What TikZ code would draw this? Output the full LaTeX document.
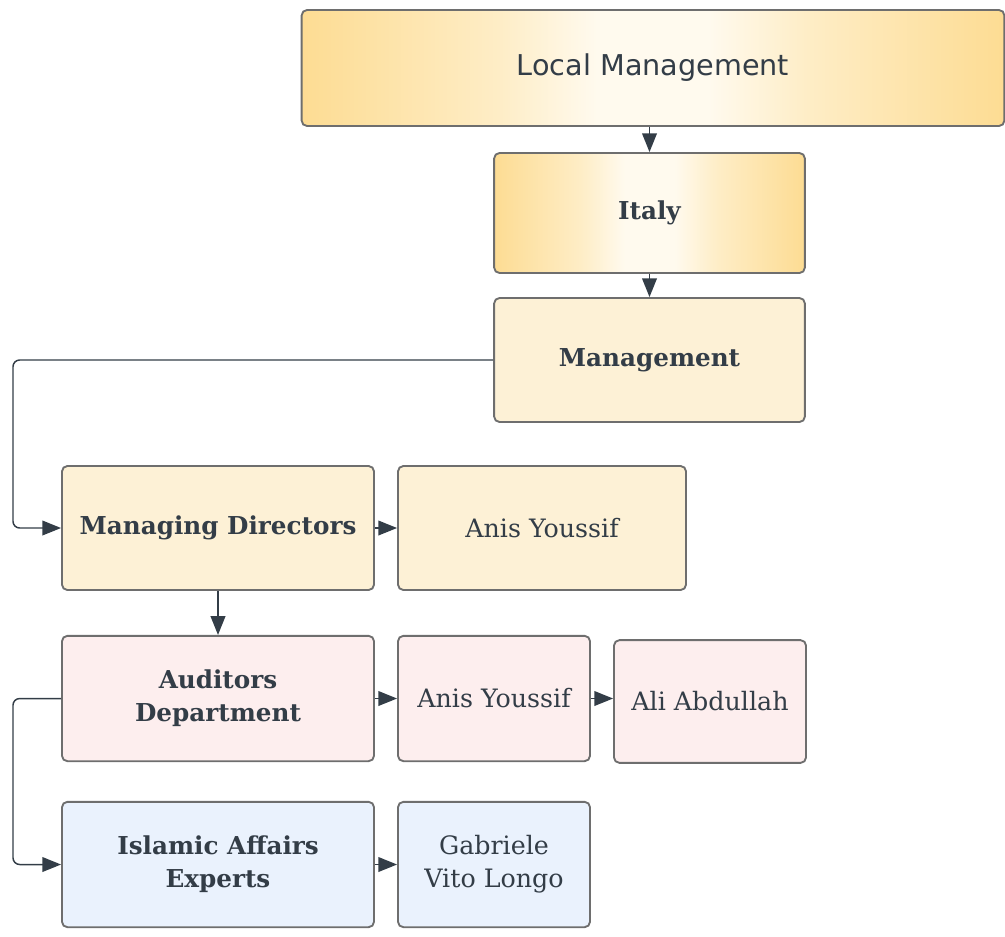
\documentclass[tikz,border=0pt]{standalone}
\usepackage{fontspec}
\setmainfont{DejaVu Serif}
\newfontfamily\headfont{DejaVu Sans}
\usetikzlibrary{arrows.meta}
\definecolor{ink}{HTML}{333D47}
\definecolor{edge}{HTML}{6E6E6E}
\definecolor{gold}{HTML}{FDDC93}
\definecolor{goldmid}{HTML}{FEEDC6}
\definecolor{goldlight}{HTML}{FFFAEE}
\definecolor{cream}{HTML}{FDF1D6}
\definecolor{blush}{HTML}{FDEEEE}
\definecolor{ice}{HTML}{EAF2FD}
% soft gold-to-cream fade across the top boxes (path spans 25bp..75bp)
\pgfdeclarehorizontalshading{goldfade}{100bp}{
  color(0bp)=(gold); color(25bp)=(gold); color(39bp)=(goldmid);
  color(46bp)=(goldlight); color(54bp)=(goldlight); color(61bp)=(goldmid);
  color(75bp)=(gold); color(100bp)=(gold)}
\tikzset{
  box/.style={draw=edge, line width=1.4pt, rounded corners=4pt, text=ink,
    align=center, inner sep=0pt},
  gradbox/.style={box, shading=goldfade, shading angle=0},
  creambox/.style={box, fill=cream},
  pinkbox/.style={box, fill=blush},
  bluebox/.style={box, fill=ice},
  link/.style={draw=ink, line width=1.1pt, rounded corners=5pt,
    -{Triangle[length=14pt,width=11pt]}},
  bt/.style={font=\fontsize{18.5}{25}\selectfont\bfseries},
  nt/.style={font=\fontsize{19}{25}\selectfont},
}
\begin{document}
\begin{tikzpicture}[x=0.75pt,y=-0.75pt]
\useasboundingbox (0,0) rectangle (1005,936);
% boxes, positioned in pixel units
\node[gradbox, minimum width=527pt, minimum height=87pt, font=\headfont\fontsize{21.5}{26}\selectfont]
  (local) at (653,68) {Local Management};
\node[gradbox, bt, minimum width=233pt, minimum height=90pt] (italy) at (649.5,213) {Italy};
\node[creambox, bt, minimum width=233pt, minimum height=93pt] (mgmt) at (649.5,360) {Management};
\node[creambox, bt, minimum width=234pt, minimum height=93pt] (md) at (218,528) {Managing Directors};
\node[creambox, nt, minimum width=216pt, minimum height=93pt] (anis1) at (542,528) {Anis Youssif};
\node[pinkbox, bt, minimum width=234pt, minimum height=94pt] (aud) at (218,698.5) {Auditors\\Department};
\node[pinkbox, nt, minimum width=144pt, minimum height=94pt] (anis2) at (494,698.5) {Anis Youssif};
\node[pinkbox, nt, minimum width=144pt, minimum height=92pt] (ali) at (710,701.5) {Ali Abdullah};
\node[bluebox, bt, minimum width=234pt, minimum height=94pt] (isl) at (218,864.5) {Islamic Affairs\\Experts};
\node[bluebox, nt, minimum width=144pt, minimum height=94pt] (gab) at (494,864.5) {Gabriele\\Vito Longo};
% connectors
\draw[link] (local.south -| italy.north) -- (italy.north);
\draw[link] (italy.south) -- (mgmt.north);
\coordinate (mtop) at (13,360);
\coordinate (mbot) at (13,528);
\draw[link] (mgmt.west) -- (mtop) -- (mbot) -- (md.west);
\draw[link] (md.east) -- (anis1.west);
\draw[link] (md.south) -- (aud.north);
\coordinate (atop) at (13,698.5);
\coordinate (abot) at (13,864.5);
\draw[link] (aud.west) -- (atop) -- (abot) -- (isl.west);
\draw[link] (aud.east) -- (anis2.west);
\draw[link] (anis2.east) -- (anis2.east -| ali.west);
\draw[link] (isl.east) -- (gab.west);
\end{tikzpicture}
\end{document}
